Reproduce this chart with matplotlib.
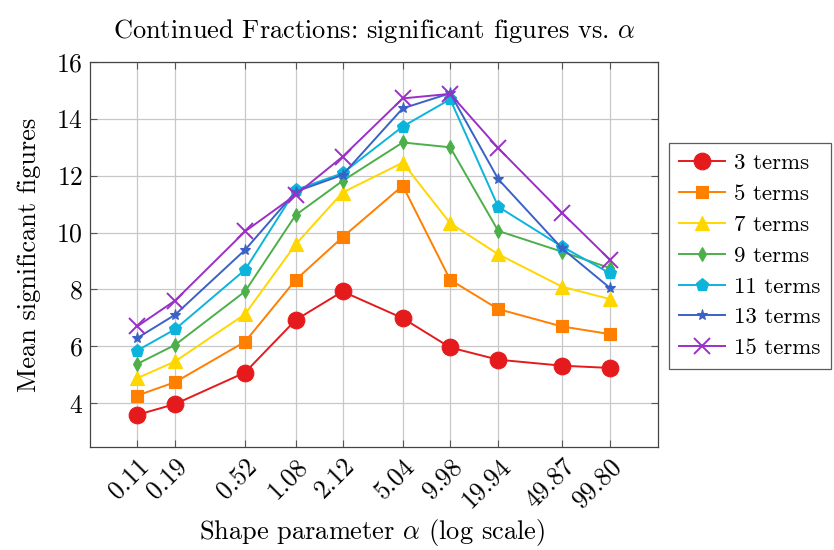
import matplotlib
matplotlib.use("Agg")
import matplotlib.pyplot as plt
from matplotlib.ticker import FixedLocator, FixedFormatter, NullLocator

plt.rcParams["font.family"] = "serif"
plt.rcParams["font.serif"] = ["cmr10", "DejaVu Serif"]
plt.rcParams["mathtext.fontset"] = "cm"
plt.rcParams["axes.formatter.use_mathtext"] = True

alpha = [0.11, 0.19, 0.52, 1.08, 2.12, 5.04, 9.98, 19.94, 49.87, 99.80]
alpha_labels = ["0.11", "0.19", "0.52", "1.08", "2.12", "5.04", "9.98", "19.94", "49.87", "99.80"]

terms3 = [3.59, 3.97, 5.08, 6.93, 7.93, 6.99, 5.96, 5.53, 5.32, 5.24]
terms5 = [4.27, 4.74, 6.16, 8.34, 9.84, 11.65, 8.34, 7.31, 6.70, 6.43]
terms7 = [4.88, 5.47, 7.13, 9.59, 11.41, 12.46, 10.33, 9.24, 8.10, 7.66]
terms9 = [5.38, 6.05, 7.93, 10.62, 11.82, 13.17, 13.00, 10.06, 9.33, 8.75]
terms11 = [5.85, 6.60, 8.69, 11.50, 12.09, 13.73, 14.69, 10.91, 9.51, 8.57]
terms13 = [6.29, 7.11, 9.39, 11.44, 12.03, 14.37, 14.90, 11.88, 9.45, 8.05]
terms15 = [6.70, 7.61, 10.04, 11.33, 12.67, 14.72, 14.88, 12.97, 10.70, 9.04]

series = [
    ("3 terms", terms3, "#e41a1c", "o", 12),
    ("5 terms", terms5, "#ff7f00", "s", 9),
    ("7 terms", terms7, "#ffd700", "^", 9.5),
    ("9 terms", terms9, "#4daf4a", "d", 7.5),
    ("11 terms", terms11, "#0cb4dc", "p", 9.5),
    ("13 terms", terms13, "#3a62c6", "*", 8),
    ("15 terms", terms15, "#9a30c8", "x", 11),
]

fig = plt.figure(figsize=(8.34, 5.5), dpi=100)
ax = fig.add_axes([90 / 834, 1 - 447 / 550, (658 - 90) / 834, (447 - 62) / 550])

for label, vals, color, marker, ms in series:
    ax.plot(alpha, vals, color=color, marker=marker, markersize=ms, lw=1.4,
            markeredgewidth=1.4 if marker == "x" else 0.8, markeredgecolor=color,
            label=label, zorder=3)

ax.set_xscale("log")
ax.set_xlim(0.0558, 199)
ax.set_ylim(2.46, 16)
ax.xaxis.set_major_locator(FixedLocator(alpha))
ax.xaxis.set_major_formatter(FixedFormatter(alpha_labels))
ax.xaxis.set_minor_locator(NullLocator())
ax.set_yticks([4, 6, 8, 10, 12, 14, 16])
ax.grid(True, color="#c8c8c8", lw=0.9, zorder=0)
ax.tick_params(direction="in", length=5, width=0.8, color="#555555",
               top=True, right=True, labelsize=18.5, pad=5)
plt.setp(ax.get_xticklabels(), rotation=45, ha="right", rotation_mode="anchor")
for s in ax.spines.values():
    s.set_color("#444444")
    s.set_linewidth(0.9)

ax.set_title(r"Continued Fractions: significant figures vs. $\alpha$", fontsize=19, pad=17)
ax.set_ylabel("Mean significant figures", fontsize=19, labelpad=11)
fig.text(372 / 834, 1 - 532 / 550, r"Shape parameter $\alpha$ (log scale)",
         fontsize=19, ha="center", va="center")

leg = fig.legend(loc="upper left", bbox_to_anchor=(669 / 834, 1 - 143 / 550),
                 fontsize=16.5, frameon=True, fancybox=False, edgecolor="#333333",
                 handlelength=2.0, borderpad=0.45, labelspacing=0.47, handletextpad=0.4,
                 borderaxespad=0)
leg.get_frame().set_linewidth(0.9)

fig.savefig("out.png", dpi=100)
